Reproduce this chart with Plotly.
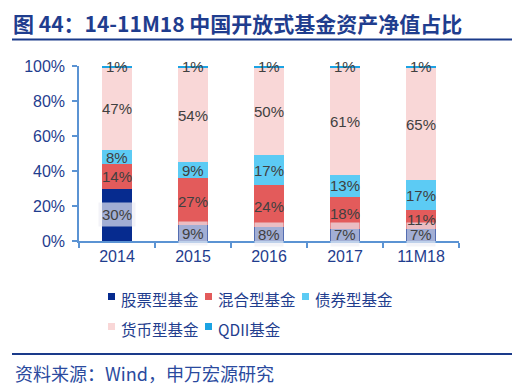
import plotly.graph_objects as go

categories = ["2014", "2015", "2016", "2017", "11M18"]
series_names = ["股票型基金", "混合型基金", "债券型基金", "货币型基金", "QDII基金"]
stock = [30, 9, 8, 7, 7]
mixed = [14, 27, 24, 18, 11]
bond = [8, 9, 17, 13, 17]
money = [47, 54, 50, 61, 65]
qdii = [1, 1, 1, 1, 1]
y_ticks = [0, 20, 40, 60, 80, 100]
y_tick_labels = ["0%", "20%", "40%", "60%", "80%", "100%"]

series_values = [stock, mixed, bond, money, qdii]
colors = ["#062b8f", "#e35b5b", "#5ccbf4", "#f9d7d7", "#1ba3e3"]

FONT = "Liberation Sans, Arial, Noto Sans CJK SC, sans-serif"
CJK = "Noto Sans CJK SC, sans-serif"
NAVY = "#1f3d8e"
AXIS = "#5b93d3"

# page has an 8px body margin; figure is sized so it fits the 522x391 window
OFF = 8
W, H = 522 - OFF, 391 - OFF
# plot area in window pixels
PL, PR, PT, PB = 79, 459, 66, 241
def px(x):
    return (x - PL) / (PR - PL)
def py(y):
    return (PB - y) / (PB - PT)

fig = go.Figure()
for name, vals, col in zip(series_names, series_values, colors):
    fig.add_trace(go.Bar(
        x=categories, y=vals, name=name, marker=dict(color=col, line=dict(width=0)),
        showlegend=False,
    ))

# data labels, positions from normalized cumulative shares (x as category index)
totals = [sum(v[j] for v in series_values) for j in range(len(categories))]
stock_ann, other_ann = [], []
for j in range(len(categories)):
    base = 0.0
    for i, vals in enumerate(series_values):
        share = vals[j] / totals[j] * 100
        mid = base + share / 2
        base += share
        ann = dict(x=j, y=mid, xref="x", yref="y", text=f"{vals[j]}%", showarrow=False,
                   font=dict(family=FONT, size=15, color="#404040"))
        if i == 0:
            ann.update(bgcolor="rgba(238,238,244,0.68)", borderpad=3)
            stock_ann.append(ann)
        else:
            other_ann.append(ann)

annotations = stock_ann + other_ann
annotations.append(dict(
    x=px(13), xref="paper", xanchor="left", y=py(373), yref="paper", yanchor="middle",
    text="资料来源：Wind，申万宏源研究", showarrow=False,
    font=dict(family=CJK, size=18, color="#2a4a9e"),
))

# legend (two rows) built from series names/colours
legend_slots = [(108, 299), (205, 299), (302, 299), (108, 329), (205, 329)]
shapes = []
for (lx, ly), name, col in zip(legend_slots, series_names, colors):
    shapes.append(dict(type="rect", xref="paper", yref="paper",
                       x0=px(lx), x1=px(lx + 7), y0=py(ly + 1), y1=py(ly - 6),
                       fillcolor=col, line=dict(width=0)))
    annotations.append(dict(
        x=px(lx + 11), xref="paper", xanchor="left", y=py(ly), yref="paper", yanchor="middle",
        text=name, showarrow=False, font=dict(family=CJK, size=15.5, color=NAVY),
    ))

shapes += [
    dict(type="line", xref="paper", yref="paper", x0=px(12), x1=px(512),
         y0=py(39.5), y1=py(39.5), line=dict(color="#1a3a8a", width=2)),
    dict(type="line", xref="paper", yref="paper", x0=px(12), x1=px(512),
         y0=py(354), y1=py(354), line=dict(color="#1a3a8a", width=2)),
]

fig.update_layout(
    width=W, height=H,
    margin=dict(l=PL - OFF, r=W - (PR - OFF), t=PT - OFF, b=H - (PB - OFF)),
    paper_bgcolor="white", plot_bgcolor="white",
    barmode="stack", barnorm="percent", bargap=0.605,
    showlegend=False,
    title=dict(
        text="<b>图 44：14-11M18 中国开放式基金资产净值占比</b>",
        x=(13 - OFF) / W, xref="container", xanchor="left",
        y=1 - (25 - OFF) / H, yref="container", yanchor="middle",
        font=dict(family=CJK, size=21, color=NAVY),
    ),
    xaxis=dict(
        type="category", range=[-0.5, len(categories) - 0.5],
        showline=True, linecolor=AXIS, linewidth=1.5,
        ticks="outside", tickson="boundaries", ticklen=5, tickcolor=AXIS, tickwidth=1.5,
        tickfont=dict(family=FONT, size=16, color=NAVY), showgrid=False,
    ),
    yaxis=dict(
        range=[0, 100], tickvals=y_ticks, ticktext=y_tick_labels,
        showline=True, linecolor=AXIS, linewidth=1.5,
        ticks="outside", ticklen=5, tickcolor=AXIS, tickwidth=1.5,
        tickfont=dict(family=FONT, size=16, color=NAVY), showgrid=False, zeroline=False,
        ticklabelstandoff=4,
    ),
    annotations=annotations,
    shapes=shapes,
)

fig.write_html("out.html")
